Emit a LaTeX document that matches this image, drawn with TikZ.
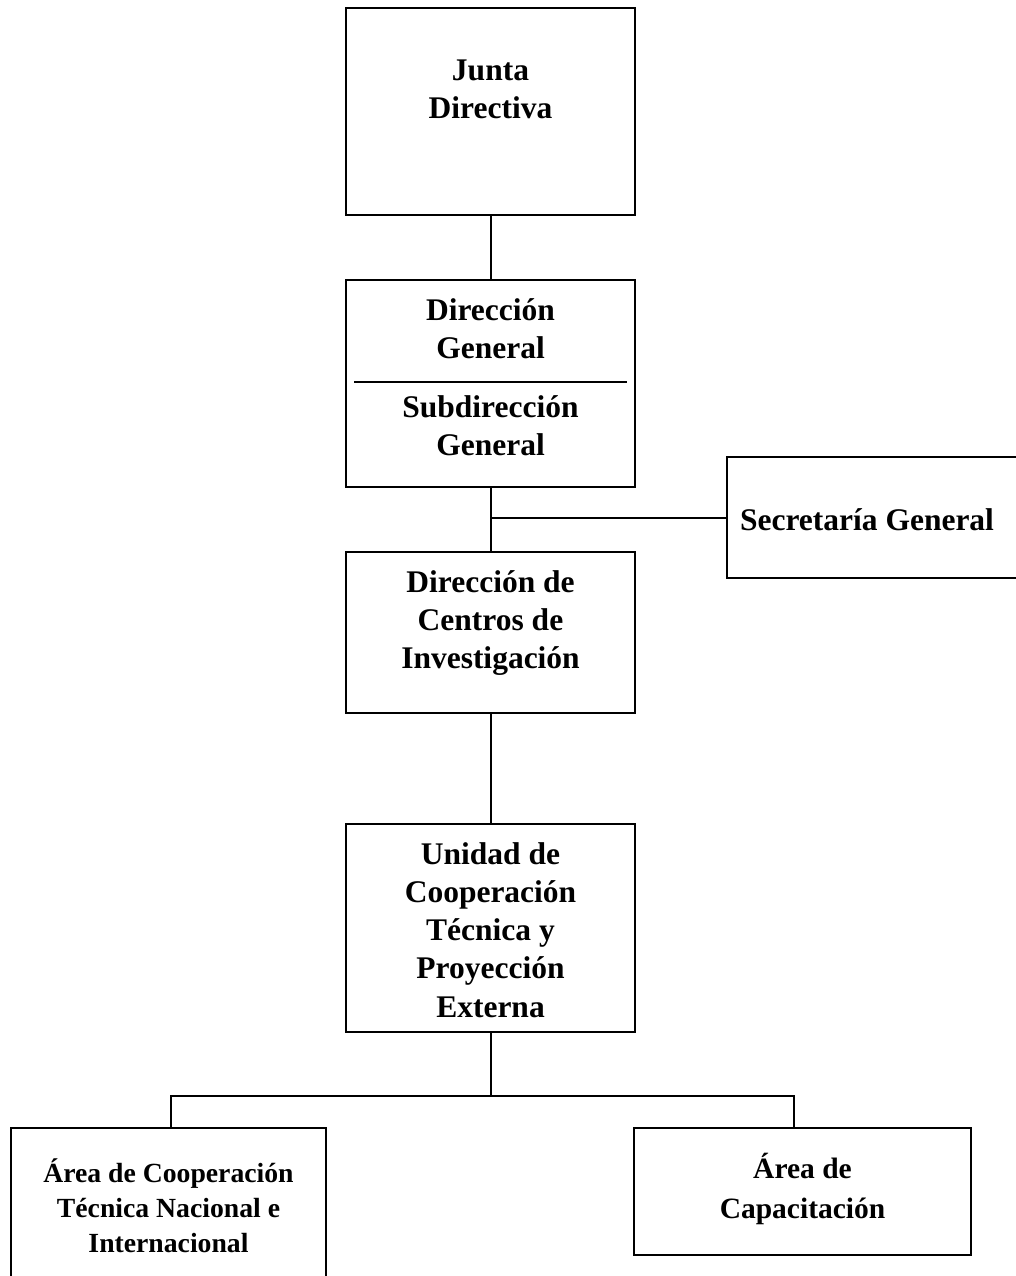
\documentclass[tikz,border=0pt]{standalone}
\usepackage{fontspec}
\setmainfont{Liberation Serif}
\begin{document}
\begin{tikzpicture}[x=1pt,y=-1pt,
  box/.style={draw=black,line width=2.5pt,fill=none},
  conn/.style={draw=black,line width=2pt},
  txt/.style={anchor=base,inner sep=0pt,font=\fontsize{31.5}{38}\selectfont\bfseries},
  txts/.style={anchor=base,inner sep=0pt,font=\fontsize{27.7}{35}\selectfont\bfseries},
  txtm/.style={anchor=base,inner sep=0pt,font=\fontsize{29.5}{38}\selectfont\bfseries}]
\useasboundingbox (0,0) rectangle (1015,1276);
% boxes
\draw[box] (346,8) rectangle (635,215);
\coordinate (jdS) at (490.5,215);
\draw[box] (346,280) rectangle (635,487);
\coordinate (dgN) at (490.5,280);
\coordinate (dgS) at (490.5,487);
\draw[line width=2pt] (354,382) -- (627,382);
\draw[box] (727,457) rectangle (1030,578);
\coordinate (sgW) at (727,518);
\draw[box] (346,552) rectangle (635,713);
\coordinate (dcN) at (490.5,552);
\coordinate (dcS) at (490.5,713);
\draw[box] (346,824) rectangle (635,1032);
\coordinate (ucN) at (490.5,824);
\coordinate (ucS) at (490.5,1032);
\draw[box] (11,1128) rectangle (326,1290);
\coordinate (acN) at (171,1128);
\draw[box] (634,1128) rectangle (971,1255);
\coordinate (capN) at (794,1128);
% texts
\node[txt] (t1) at (490.5,81) {Junta};
\node[txt] (t2) at (490.5,119) {Directiva};
\node[txt] (t3) at (490.5,320) {Dirección};
\node[txt] (t4) at (490.5,358) {General};
\node[txt] (t5) at (490.5,417) {Subdirección};
\node[txt] (t6) at (490.5,455) {General};
\node[txt] (t7) at (867,530) {Secretaría General};
\node[txt] (t8) at (490.5,592) {Dirección de};
\node[txt] (t9) at (490.5,630) {Centros de};
\node[txt] (t10) at (490.5,668) {Investigación};
\node[txt] (t11) at (490.5,864) {Unidad de};
\node[txt] (t12) at (490.5,902) {Cooperación};
\node[txt] (t13) at (490.5,940) {Técnica y};
\node[txt] (t14) at (490.5,978) {Proyección};
\node[txt] (t15) at (490.5,1017) {Externa};
\node[txts] (t16) at (168.5,1182) {Área de Cooperación};
\node[txts] (t17) at (168.5,1217) {Técnica Nacional e};
\node[txts] (t18) at (168.5,1252) {Internacional};
\node[txtm] (t19) at (802.5,1178) {Área de};
\node[txtm] (t20) at (802.5,1218) {Capacitación};
% connectors
\coordinate (j1) at (490.5,518);
\coordinate (j2) at (490.5,1096);
\coordinate (j3) at (171,1096);
\coordinate (j4) at (794,1096);
\draw[conn] (jdS) -- (dgN);
\draw[conn] (dgS) -- (dcN);
\draw[conn] (j1) -- (sgW);
\draw[conn] (dcS) -- (ucN);
\draw[conn] (ucS) -- (j2);
\draw[conn] (acN) -- (j3) -- (j4) -- (capN);
\end{tikzpicture}
\end{document}
